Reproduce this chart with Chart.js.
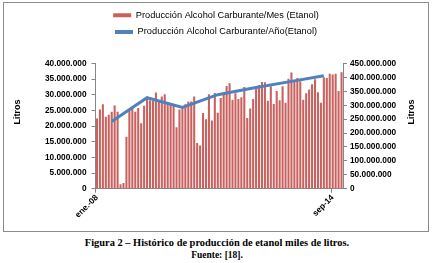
<!DOCTYPE html>
<html>
<head>
<meta charset="utf-8">
<script src="https://cdn.jsdelivr.net/npm/chart.js@4.4.1/dist/chart.umd.min.js"></script>
<style>
  html, body { margin: 0; padding: 0; background: #fff; }
  #frame { position: absolute; left: 3px; top: 2px; width: 424px; height: 228px; border: 1px solid #8c8c8c; }
  #frame canvas { display: block; }
  .caption { position: absolute; left: 0; width: 434px; text-align: center; font-family: "Liberation Serif", serif; font-weight: bold; color: #000; line-height: 1; }
  #fig { top: 238px; font-size: 10.4px; }
  #src { top: 251px; font-size: 9.5px; }
</style>
</head>
<body>
<div id="frame"><canvas id="ethanolChart" width="424" height="228"></canvas></div>
<div class="caption" id="fig">Figura 2 – Histórico de producción de etanol miles de litros.</div>
<div class="caption" id="src">Fuente: [18].</div>
<script>
// meses de ene-08 a dic-14
const years = [2008, 2009, 2010, 2011, 2012, 2013, 2014];
const monthNames = ["ene", "feb", "mar", "abr", "may", "jun", "jul", "ago", "sep", "oct", "nov", "dic"];

// produccion mensual, millones de litros (eje izquierdo)
const monthly2008 = [22.4, 25.3, 27.0, 23.0, 23.6, 24.6, 26.6, 24.6, 1.4, 1.8, 16.6, 25.3];
const monthly2009 = [25.7, 24.6, 25.8, 20.9, 26.5, 29.2, 28.3, 28.1, 30.7, 28.1, 29.5, 30.2];
const monthly2010 = [27.2, 27.2, 27.1, 19.6, 25.3, 25.7, 27.0, 27.9, 27.9, 29.5, 14.6, 13.8];
const monthly2011 = [24.2, 22.2, 30.2, 21.8, 30.6, 24.3, 29.0, 30.3, 32.8, 33.7, 28.4, 30.5];
const monthly2012 = [28.7, 29.2, 32.5, 22.6, 25.6, 28.7, 32.8, 33.1, 34.1, 34.0, 28.1, 32.7];
const monthly2013 = [27.1, 31.2, 28.3, 32.7, 27.5, 35.1, 37.1, 34.4, 35.4, 34.3, 28.4, 30.5];
const monthly2014 = [31.7, 33.4, 35.0, 30.8, 27.5, 35.6, 35.4, 36.7, 36.5, 36.7, 31.2, 37.2];

// produccion anual, millones de litros (eje derecho), marcada en junio
const yearly = [242, 327, 292, 338, 362, 384, 406];
const yearPointMonth = 5;

// etiquetas visibles del eje x (indice de mes -> texto)
const shownTicks = { 0: "ene.-08", 80: "sep-14" };

const categories = years.flatMap(y => monthNames.map(m => m + "-" + String(y).slice(2)));
const monthlyValues = [].concat(monthly2008, monthly2009, monthly2010, monthly2011, monthly2012, monthly2013, monthly2014);
const yearlyLine = categories.map(() => null);
yearly.forEach((v, i) => { yearlyLine[i * 12 + yearPointMonth] = v; });

function miles(v) {
    return String(Math.round(v * 1000000)).replace(/\B(?=(\d{3})+(?!\d))/g, ".");
}

const axisGray = "#868686";
const tickFont = { family: "'Liberation Sans', Arial, sans-serif", size: 8.3, weight: "bold" };

const legendGap = {
    id: "legendGap",
    beforeInit(chart) {
        const fit = chart.legend.fit;
        chart.legend.fit = function () {
            fit.bind(chart.legend)();
            this.height += 17;
        };
    }
};

const sideTitles = {
    id: "sideTitles",
    afterDraw(chart) {
        const c = chart.ctx;
        c.save();
        c.font = "bold 9px 'Liberation Sans', Arial, sans-serif";
        c.fillStyle = "#000";
        c.textAlign = "center";
        c.textBaseline = "middle";
        [14, 408].forEach(x => {
            c.save();
            c.translate(x, 109);
            c.rotate(-Math.PI / 2);
            c.fillText("Litros", 0, 0);
            c.restore();
        });
        c.restore();
    }
};

const ctx = document.getElementById("ethanolChart");
new Chart(ctx, {
    data: {
        labels: categories,
        datasets: [
            {
                type: "line",
                label: "Producción Alcohol Carburante/Año(Etanol)",
                data: yearlyLine,
                yAxisID: "y2",
                borderColor: "#4F81BD",
                backgroundColor: "#4F81BD",
                borderWidth: 3,
                pointRadius: 0,
                spanGaps: true,
                tension: 0
            },
            {
                type: "bar",
                label: "Producción Alcohol Carburante/Mes (Etanol)",
                data: monthlyValues,
                yAxisID: "y",
                backgroundColor: "#C9625F",
                borderColor: "#C0504D",
                borderWidth: 0,
                barPercentage: 0.7,
                categoryPercentage: 1
            }
        ]
    },
    options: {
        responsive: false,
        animation: false,
        layout: { padding: { bottom: 11 } },
        plugins: {
            tooltip: { enabled: false },
            legend: {
                position: "top",
                maxWidth: 300,
                labels: {
                    boxWidth: 18,
                    boxHeight: 4,
                    padding: 7.5,
                    color: "#000",
                    font: { family: "'Liberation Sans', Arial, sans-serif", size: 9.25 },
                    sort: (a, b) => b.datasetIndex - a.datasetIndex,
                    generateLabels: chart => Chart.defaults.plugins.legend.labels.generateLabels(chart)
                        .map(item => Object.assign(item, {
                            lineWidth: 0,
                            fillStyle: item.datasetIndex === 0 ? item.strokeStyle : item.fillStyle
                        }))
                }
            }
        },
        scales: {
            x: {
                offset: true,
                grid: {
                    offset: true,
                    drawOnChartArea: false,
                    tickLength: 4,
                    color: c => (c.index in shownTicks) ? axisGray : "rgba(0,0,0,0)"
                },
                border: { color: axisGray },
                ticks: {
                    autoSkip: false,
                    minRotation: 45,
                    maxRotation: 45,
                    padding: 0,
                    color: "#000",
                    font: tickFont,
                    callback: (v, i) => shownTicks[i] || ""
                }
            },
            y: {
                position: "left",
                min: 0,
                max: 40,
                afterFit: s => { s.width = 91.5; },
                grid: { drawOnChartArea: false, tickLength: 4, color: axisGray },
                border: { color: axisGray },
                ticks: { stepSize: 5, padding: 5, color: "#000", font: tickFont, callback: v => miles(v) }
            },
            y2: {
                position: "right",
                min: 0,
                max: 450,
                afterFit: s => { s.width = 85; },
                grid: { drawOnChartArea: false, tickLength: 4, color: axisGray },
                border: { color: axisGray },
                ticks: { stepSize: 50, padding: 3, color: "#000", font: tickFont, callback: v => miles(v) }
            }
        }
    },
    plugins: [legendGap, sideTitles]
});
</script>
</body>
</html>
